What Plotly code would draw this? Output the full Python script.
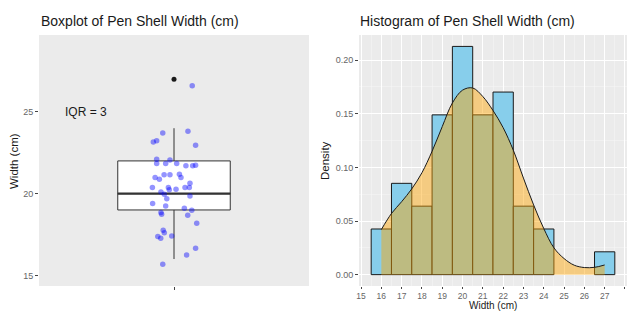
import numpy as np
import plotly.graph_objects as go

# ---------------- data ----------------
widths = [16, 16, 17, 17, 17, 17, 18, 18, 18,
          19, 19, 19, 19, 19, 19, 19,
          20, 20, 20, 20, 20, 20, 20, 20, 20, 20,
          21, 21, 21, 21, 21, 21, 21,
          22, 22, 22, 22, 22, 22, 22, 22,
          23, 23, 23, 24, 24, 27]

jitter_x = [1.081, 0.950, 1.062, 0.908, 0.923, 1.096, 0.923, 0.923, 0.963, 0.982,
            1.012, 1.053, 1.083, 1.096, 0.916, 0.935, 0.956, 0.982, 1.024, 1.031,
            0.904, 0.942, 0.957, 0.975, 0.979, 1.009, 0.968, 1.049, 1.068, 1.071,
            1.071, 0.905, 0.963, 1.046, 1.079, 1.061, 0.942, 0.945, 1.101, 0.952,
            0.957, 0.928, 0.941, 0.990, 1.096, 1.056, 0.950]
jitter_y = [26.60, 23.70, 23.82, 23.15, 23.23, 22.96, 22.10, 21.84, 21.84, 22.05,
            21.84, 21.70, 21.70, 21.74, 20.98, 20.88, 21.15, 21.15, 21.19, 20.98,
            20.37, 20.10, 19.96, 20.37, 20.23, 20.27, 19.69, 20.37, 20.37, 20.64,
            19.86, 19.39, 19.25, 19.11, 18.98, 18.67, 18.84, 18.74, 18.19, 17.76,
            17.61, 17.37, 17.27, 17.41, 16.66, 16.25, 15.68]

dens_x = [16, 16.5, 17, 17.5, 18, 18.5, 19, 19.5, 20, 20.5, 21, 21.5,
          22, 22.5, 23, 23.5, 24, 24.5, 25, 25.5, 26, 26.5, 27]
dens_y = [0.042, 0.057, 0.068, 0.080, 0.095, 0.115, 0.138, 0.160, 0.172, 0.174,
          0.166, 0.153, 0.137, 0.116, 0.090, 0.065, 0.043, 0.025, 0.015, 0.0088,
          0.0066, 0.0068, 0.009]

box_title = "Boxplot of Pen Shell Width (cm)"
hist_title = "Histogram of Pen Shell Width (cm)"

# ---------------- figure ----------------
W, H = 629, 311
FONT = "Liberation Sans, Arial, sans-serif"
PANEL = "#EBEBEB"
TICKC = "#666666"

fig = go.Figure()

box_w = 0.5
q1, med, q3 = np.percentile(widths, [25, 50, 75])

fig.add_trace(go.Box(
    y=widths, x0=1, width=box_w, boxpoints="outliers",
    fillcolor="white", line=dict(color="#333333", width=1),
    whiskerwidth=0,
    marker=dict(color="#1a1a1a", size=5, outliercolor="#1a1a1a",
                line=dict(width=0)),
    xaxis="x", yaxis="y", showlegend=False, hoverinfo="skip"))

fig.add_trace(go.Scatter(
    x=[1 - box_w / 2, 1 + box_w / 2], y=[med, med], mode="lines",
    line=dict(color="#333333", width=2.2), xaxis="x", yaxis="y",
    showlegend=False, hoverinfo="skip"))

fig.add_trace(go.Scatter(
    x=jitter_x, y=jitter_y, mode="markers",
    marker=dict(color="rgba(0,0,255,0.42)", size=5.5, line=dict(width=0)),
    xaxis="x", yaxis="y", showlegend=False, hoverinfo="skip"))

fig.add_trace(go.Histogram(
    x=widths, histnorm="probability density",
    xbins=dict(start=15.5, end=27.5, size=1),
    marker=dict(color="#87CEEB", line=dict(color="#1a1a1a", width=1)),
    xaxis="x2", yaxis="y2", showlegend=False, hoverinfo="skip"))

fig.add_trace(go.Scatter(
    x=dens_x, y=dens_y, mode="lines", fill="tozeroy",
    fillcolor="rgba(255,165,0,0.45)",
    line=dict(color="#1a1a1a", width=1, shape="spline", smoothing=1.0),
    xaxis="x2", yaxis="y2", showlegend=False, hoverinfo="skip"))

ydom = [(311 - 286) / H, (311 - 35) / H]
common_tick = dict(ticks="outside", ticklen=3, tickwidth=1, tickcolor="#444444",
                   tickfont=dict(family=FONT, size=9, color=TICKC),
                   showline=False, zeroline=False, automargin=False)
x2_tick = dict(common_tick)
x2_tick.update(ticklen=2, tickfont=dict(family=FONT, size=8.5, color=TICKC))

fig.update_layout(
    width=W, height=H,
    margin=dict(l=0, r=0, t=0, b=0, autoexpand=False),
    paper_bgcolor="white",
    plot_bgcolor=PANEL,
    bargap=0,
    font=dict(family=FONT),
    xaxis=dict(domain=[39 / W, 309 / W], range=[0.4, 1.6],
               tickvals=[1], ticktext=[""], showgrid=False, **common_tick),
    yaxis=dict(domain=ydom, range=[14.35, 29.7], tickvals=[15, 20, 25],
               showgrid=False, **common_tick),
    xaxis2=dict(domain=[359 / W, 627 / W], range=[14.9, 28.1], anchor="y2",
                tickvals=list(range(15, 29)), showgrid=True,
                gridcolor="white", gridwidth=1,
                minor=dict(tickvals=[v + 0.5 for v in range(14, 28)],
                           showgrid=True, gridcolor="#F7F7F7", gridwidth=0.5,
                           ticks=""),
                **x2_tick),
    yaxis2=dict(domain=ydom, range=[-0.0106, 0.2234], anchor="x2",
                tickvals=[0, 0.05, 0.10, 0.15, 0.20], tickformat=".2f",
                showgrid=True, gridcolor="white", gridwidth=1,
                minor=dict(tickvals=[0.025, 0.075, 0.125, 0.175, 0.225],
                           showgrid=True, gridcolor="#F7F7F7", gridwidth=0.5,
                           ticks=""),
                **common_tick),
    annotations=[
        dict(text=box_title, x=39 / W, y=1 - 21 / H, xref="paper", yref="paper",
             xanchor="left", yanchor="middle", showarrow=False,
             font=dict(family=FONT, size=14, color="#1a1a1a")),
        dict(text=hist_title, x=358 / W, y=1 - 21 / H, xref="paper", yref="paper",
             xanchor="left", yanchor="middle", showarrow=False,
             font=dict(family=FONT, size=14, color="#1a1a1a")),
        dict(text="Width (cm)", x=14 / W, y=1 - 161 / H, xref="paper", yref="paper",
             xanchor="center", yanchor="middle", textangle=-90, showarrow=False,
             font=dict(family=FONT, size=11.5, color="#1a1a1a")),
        dict(text="Density", x=325 / W, y=1 - 161 / H, xref="paper", yref="paper",
             xanchor="center", yanchor="middle", textangle=-90, showarrow=False,
             font=dict(family=FONT, size=11.5, color="#1a1a1a")),
        dict(text="Width (cm)", x=493 / W, y=1 - 305.5 / H, xref="paper", yref="paper",
             xanchor="center", yanchor="middle", showarrow=False,
             font=dict(family=FONT, size=10, color="#1a1a1a")),
        dict(text=f"IQR = {q3 - q1:g}", x=0.61, y=25, xref="x", yref="y",
             xanchor="center", yanchor="middle", showarrow=False,
             font=dict(family=FONT, size=12, color="#1a1a1a")),
    ],
)

fig.write_html(
    "out.html",
    config={"displayModeBar": False, "staticPlot": True},
    post_script="document.body.style.margin='0';document.body.style.overflow='hidden';",
)
